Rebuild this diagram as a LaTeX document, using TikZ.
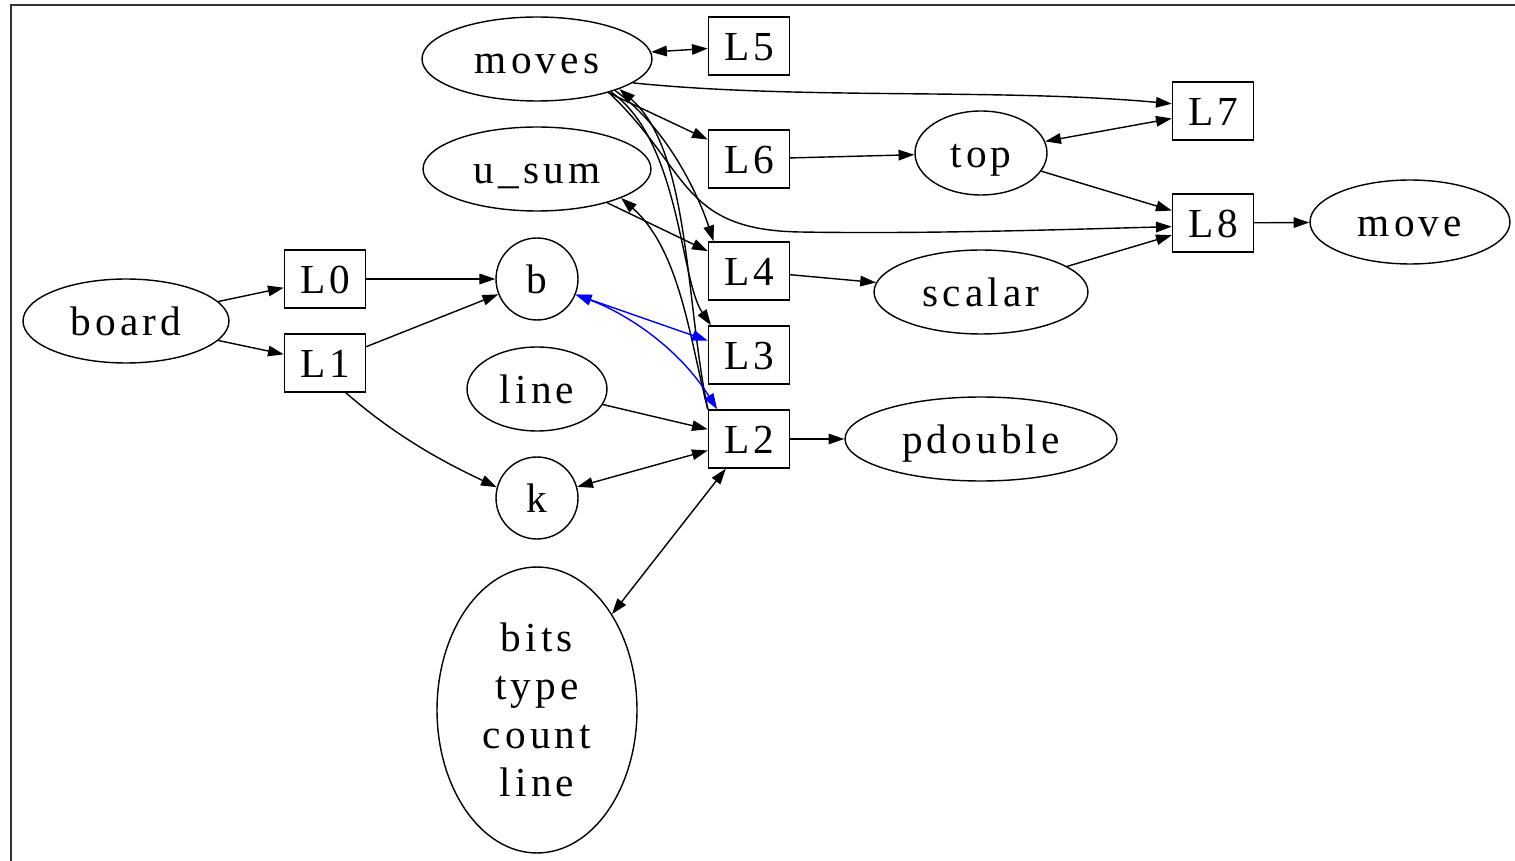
\documentclass[tikz,border=0pt]{standalone}
\usepackage{fontspec}
\setmainfont{Liberation Serif}[LetterSpace=10]
\usetikzlibrary{arrows.meta, shapes.geometric}

\tikzset{
  txt/.style={text height=18pt, text depth=2pt},
  var/.style={draw, ellipse, inner sep=0pt, minimum height=1.68cm, txt},
  blk/.style={draw, rectangle, minimum width=1.62cm, minimum height=1.16cm, inner sep=0pt, txt},
  ptr/.style={draw, circle, minimum size=1.64cm, inner sep=0pt, txt},
  multi/.style={draw, ellipse, inner sep=0pt, align=center},
  blueedge/.style={blue}
}

\begin{document}
\begin{tikzpicture}[x=0.02cm, y=-0.02cm, >={Triangle[length=9pt,width=6pt]},
    line width=0.8pt, font=\fontsize{23.5}{27.6}\selectfont]
  \useasboundingbox (0,0) rectangle (1515,861);
  \draw[line width=1.2pt, black!80] (11,861) -- (11,5) -- (1515,5);

  % variables and blocks
  \node[var, minimum width=4.12cm] (board) at (126,321) {board};
  \node[blk] (L0) at (325,279) {L0};
  \node[blk] (L1) at (325,363) {L1};
  \node[ptr] (b) at (537,279) {b};
  \node[ptr] (k) at (537,498) {k};
  \node[var, minimum width=4.6cm]  (moves) at (537,59) {moves};
  \node[var, minimum width=4.56cm] (usum) at (537,169) {u\_sum};
  \node[var, minimum width=2.8cm]  (line) at (537,389) {line};
  \node[multi, minimum width=4cm, minimum height=5.72cm]
        (bits) at (537,710) {bits\\type\\count\\line};
  \node[blk] (L5) at (749,46) {L5};
  \node[blk] (L6) at (749,159) {L6};
  \node[blk] (L4) at (749,271) {L4};
  \node[blk] (L3) at (749,355) {L3};
  \node[blk] (L2) at (749,439) {L2};
  \node[var, minimum width=2.64cm] (top) at (981,153) {top};
  \node[var, minimum width=4.28cm] (scalar) at (981,292) {scalar};
  \node[var, minimum width=5.44cm] (pdouble) at (981,439) {pdouble};
  \node[blk] (L7) at (1213,111) {L7};
  \node[blk] (L8) at (1213,223) {L8};
  \node[var, minimum width=4cm] (move) at (1410,222) {move};

  % edges
  \draw[->] (board) -- (L0);
  \draw[->] (board) -- (L1);
  \draw[->] (L0) -- (b);
  \draw[->] (L1) -- (b);
  \draw[->] (L1.-55) .. controls (400,440) and (450,465) .. (k.165);
  \draw[<->] (moves) -- (L5);
  \draw[->] (moves.-14) .. controls (800,100) and (1000,88) .. (L7.170);
  \draw[->] (moves) -- (L6);
  \draw[->] (moves.-22) .. controls (670,130) and (700,200) .. (L4.140);
  \draw[->] (moves.-24) .. controls (680,140) and (680,280) .. (L3.142);
  \draw[->] (moves.-25) .. controls (690,170) and (680,230) .. (800,232)
    .. controls (920,234) and (1050,230) .. (L8.185);
  \draw[->] (L2.north west) .. controls (685,300) and (690,150) .. (moves.-20);
  \draw[->] (L2.north west) .. controls (690,340) and (680,250) .. (usum.-19);
  \draw[->] (usum) -- (L4);
  \draw[<->, blueedge] (b.-22) -- (L3);
  \draw[<->, blueedge] (b.-22) .. controls (630,315) and (680,350) .. (L2.137);
  \draw[->] (L4) -- (scalar);
  \draw[->] (L6) -- (top);
  \draw[<->] (top) -- (L7);
  \draw[->] (top) -- (L8);
  \draw[->] (scalar) -- (L8);
  \draw[->] (L8) -- (move);
  \draw[->] (L2) -- (pdouble);
  \draw[->] (line) -- (L2);
  \draw[<->] (k) -- (L2);
  \draw[<->] (bits) -- (L2);
\end{tikzpicture}
\end{document}
